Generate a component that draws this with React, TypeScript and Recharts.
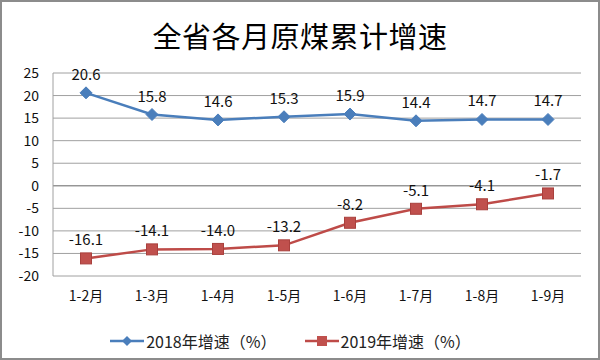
import React from 'react';
import {
  LineChart,
  Line,
  XAxis,
  YAxis,
  CartesianGrid,
  Legend,
  LabelList,
  ReferenceLine
} from 'recharts';

const months = ['1-2月', '1-3月', '1-4月', '1-5月', '1-6月', '1-7月', '1-8月', '1-9月'];
const growth2018 = [20.6, 15.8, 14.6, 15.3, 15.9, 14.4, 14.7, 14.7];
const growth2019 = [-16.1, -14.1, -14.0, -13.2, -8.2, -5.1, -4.1, -1.7];
const yTicks = [-20, -15, -10, -5, 0, 5, 10, 15, 20, 25];

const BLUE = '#4a7ebb';
const RED = '#be4b48';
const FONT = '"Noto Sans CJK SC", "Noto Sans", sans-serif';

const data = months.map((m, i) => ({
  month: m,
  y2018: growth2018[i],
  y2019: growth2019[i]
}));

// diamond marker for the 2018 series
const Diamond = (props: any) => {
  const { cx, cy } = props;
  if (cx == null || cy == null) return null;
  const r = 6;
  return (
    <path
      d={`M${cx},${cy - r}L${cx + r},${cy}L${cx},${cy + r}L${cx - r},${cy}Z`}
      fill={BLUE}
      stroke={BLUE}
    />
  );
};

// square marker for the 2019 series
const Square = (props: any) => {
  const { cx, cy } = props;
  if (cx == null || cy == null) return null;
  const s = 11;
  return (
    <rect x={cx - s / 2} y={cy - s / 2} width={s} height={s} fill="#c0504d" stroke="#a9403d" strokeWidth={1} />
  );
};

const LegendContent = () => (
  <div style={{ display: 'flex', justifyContent: 'center', alignItems: 'center', fontFamily: FONT, fontSize: 16, color: '#222', gap: 28 }}>
    <div style={{ display: 'flex', alignItems: 'center' }}>
      <svg width={34} height={14} style={{ marginRight: 2 }}>
        <line x1={0} y1={7} x2={34} y2={7} stroke={BLUE} strokeWidth={2.5} />
        <path d="M17,2L22,7L17,12L12,7Z" fill={BLUE} />
      </svg>
      <span>2018年增速（%）</span>
    </div>
    <div style={{ display: 'flex', alignItems: 'center' }}>
      <svg width={34} height={14} style={{ marginRight: 2 }}>
        <line x1={0} y1={7} x2={34} y2={7} stroke={RED} strokeWidth={2.5} />
        <rect x={12} y={2} width={10} height={10} fill="#c0504d" />
      </svg>
      <span>2019年增速（%）</span>
    </div>
  </div>
);

export default function App() {
  return (
    <div style={{ position: 'absolute', left: 0, top: 0, width: 600, height: 360, background: '#fff' }}>
      <div
        style={{
          position: 'absolute',
          left: 0,
          top: 14,
          width: 600,
          textAlign: 'center',
          fontFamily: FONT,
          fontSize: 29,
          color: '#000',
          letterSpacing: 0.5
        }}
      >
        全省各月原煤累计增速
      </div>
      <LineChart width={600} height={360} data={data} margin={{ top: 73, right: 19, left: 0, bottom: 0 }}>
        <CartesianGrid vertical={false} stroke="#a0a0a0" />
        <XAxis
          dataKey="month"
          axisLine={false}
          tickLine={false}
          tickSize={0}
          tickMargin={15}
          height={53}
          interval={0}
          padding={{ left: 33, right: 33 }}
          tick={{ fill: '#111', fontSize: 14, fontFamily: FONT }}
        />
        <YAxis
          domain={[-20, 25]}
          ticks={yTicks}
          interval={0}
          width={53}
          axisLine={{ stroke: '#a0a0a0' }}
          tickLine={false}
          tickSize={0}
          tickMargin={14}
          tick={{ fill: '#111', fontSize: 14, fontFamily: FONT }}
        />
        <ReferenceLine y={0} stroke="#8a8a8a" />
        <Legend verticalAlign="bottom" height={31} content={<LegendContent />} />
        <Line
          dataKey="y2018"
          stroke={BLUE}
          strokeWidth={2.5}
          dot={<Diamond />}
          activeDot={false}
          isAnimationActive={false}
          name="2018年增速（%）"
        >
          <LabelList dataKey="y2018" position="top" offset={13} fill="#111" fontSize={15} fontFamily={FONT} formatter={(v: any) => Number(v).toFixed(1)} />
        </Line>
        <Line
          dataKey="y2019"
          stroke={RED}
          strokeWidth={2.5}
          dot={<Square />}
          activeDot={false}
          isAnimationActive={false}
          name="2019年增速（%）"
        >
          <LabelList dataKey="y2019" position="top" offset={13} fill="#111" fontSize={15} fontFamily={FONT} formatter={(v: any) => Number(v).toFixed(1)} />
        </Line>
      </LineChart>
      <div
        style={{
          position: 'absolute',
          left: 0,
          top: 0,
          width: 600,
          height: 360,
          boxSizing: 'border-box',
          border: '2px solid #8c8c8c',
          pointerEvents: 'none'
        }}
      />
    </div>
  );
}
